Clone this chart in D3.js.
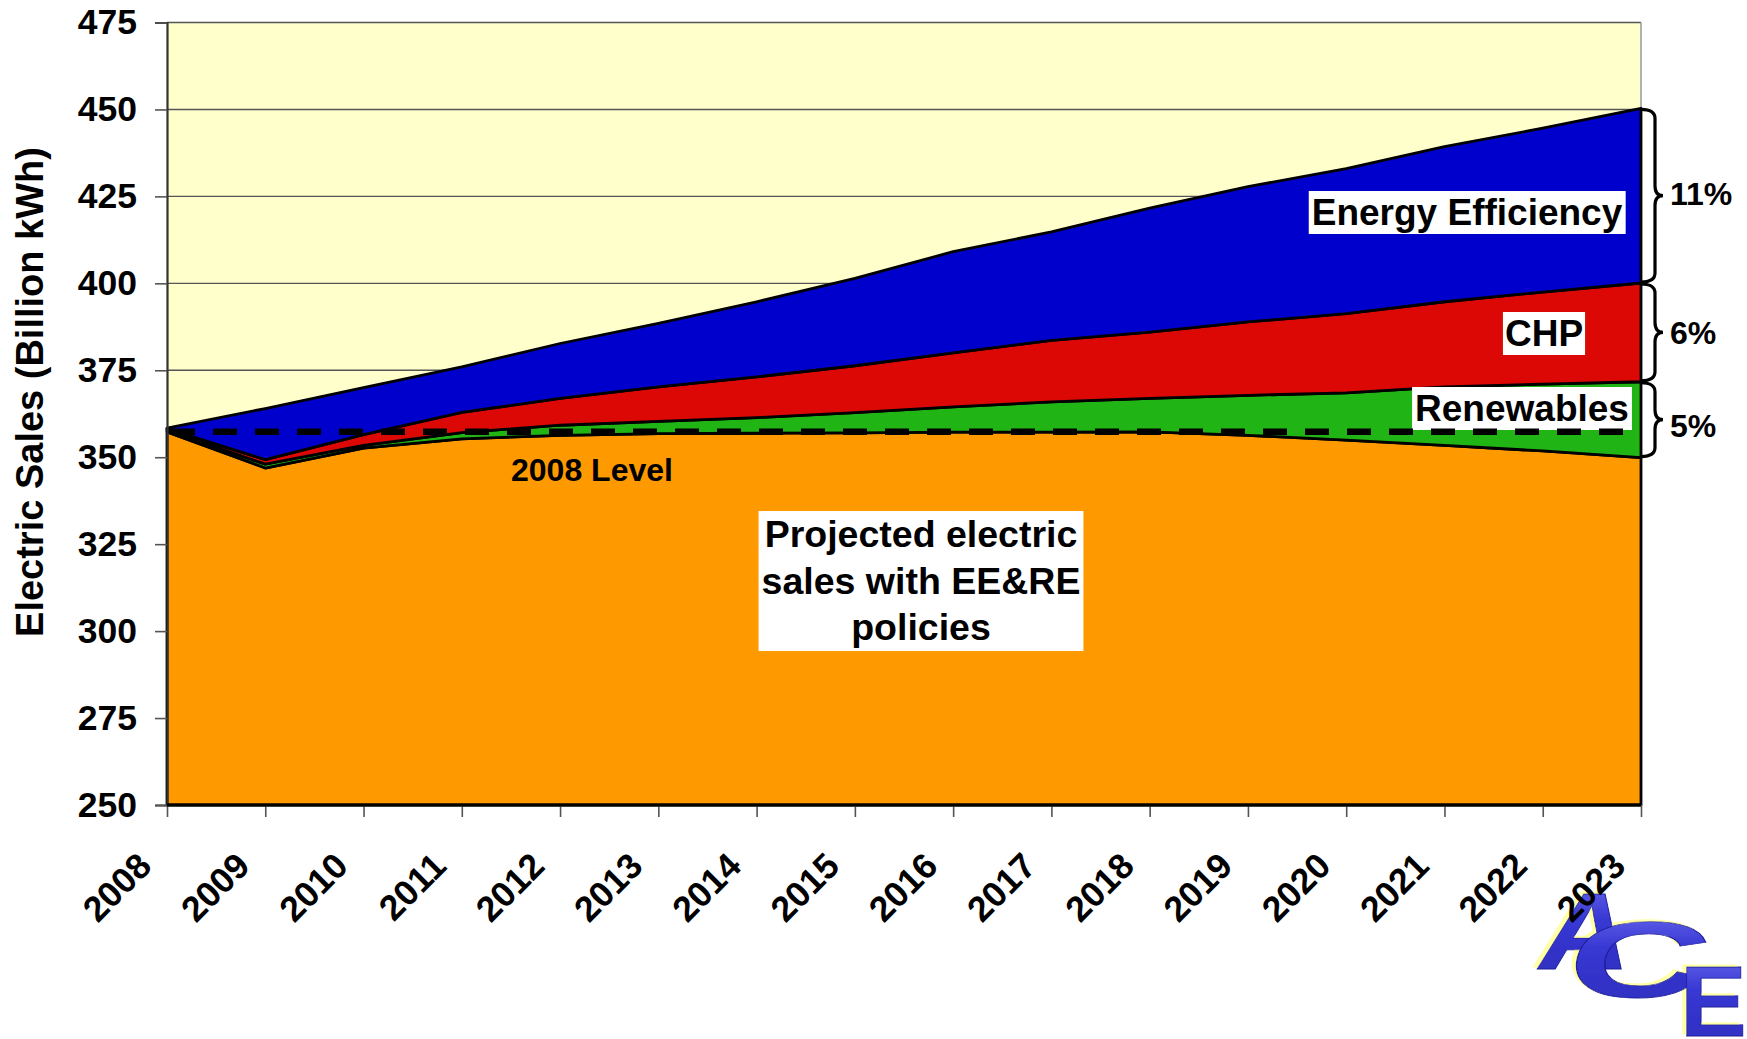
<!DOCTYPE html>
<html>
<head>
<meta charset="utf-8">
<script src="https://cdn.jsdelivr.net/npm/d3@7"></script>
<style>
  html, body { margin: 0; padding: 0; background: #ffffff; }
  svg { display: block; }
  text { font-family: "Liberation Sans", Arial, Helvetica, sans-serif; font-weight: bold; }
</style>
</head>
<body>
<svg id="chart" width="1747" height="1039"></svg>
<script>
// ---------------- data ----------------
const years = [2008, 2009, 2010, 2011, 2012, 2013, 2014, 2015, 2016, 2017, 2018, 2019, 2020, 2021, 2022, 2023];
// Projected electric sales with EE&RE policies (top of orange area)
const projectedSales     = [357.3, 346.9, 352.6, 355.3, 356.3, 356.8, 356.9, 357.0, 357.2, 357.2, 357.3, 356.3, 354.9, 353.4, 351.8, 349.9];
// Sales without renewables (top of green area)
const withoutRenewables  = [357.8, 348.0, 353.4, 357.1, 359.2, 360.3, 361.4, 362.8, 364.5, 365.9, 366.9, 367.8, 368.5, 370.2, 371.0, 371.7];
// Sales without CHP (top of red area)
const withoutCHP         = [358.2, 349.3, 356.5, 362.9, 366.9, 370.2, 373.1, 376.3, 380.0, 383.6, 386.0, 388.9, 391.3, 394.7, 397.5, 400.1];
// Baseline forecast without energy efficiency (top of blue area)
const baselineForecast   = [358.4, 364.0, 370.0, 376.0, 382.7, 388.5, 394.7, 401.4, 409.1, 414.8, 421.6, 427.8, 433.0, 439.3, 444.6, 450.3];
const level2008 = 357.3;

const yTicks = [250, 275, 300, 325, 350, 375, 400, 425, 450, 475];
const xTickLabels = years.map(String);
const layerNames = ["Projected electric sales with EE&RE policies", "Renewables", "CHP", "Energy Efficiency"];
const layerColors = ["#FF9900", "#20B414", "#DC0805", "#0000CC"];
const shareLabels = ["5%", "6%", "11%"];
const yAxisTitle = "Electric Sales (Billion kWh)";
const levelLabel = "2008 Level";

// ---------------- layout ----------------
const svg = d3.select("#chart");
const plot = { left: 167, right: 1641, top: 22.5, bottom: 805 };
const x = d3.scaleLinear().domain([2008, 2023]).range([plot.left, plot.right]);
const y = d3.scaleLinear().domain([250, 475]).range([plot.bottom, plot.top]);

const defs = svg.append("defs");

// ---------------- logo (drawn first, the 2023 label sits over it) ----------------
const grad = defs.append("linearGradient").attr("id", "logoGrad").attr("x1", 0).attr("y1", 0).attr("x2", 0).attr("y2", 1);
grad.append("stop").attr("offset", "0%").attr("stop-color", "#7070f0");
grad.append("stop").attr("offset", "40%").attr("stop-color", "#3838d4");
grad.append("stop").attr("offset", "100%").attr("stop-color", "#2c2cbc");
const shadow = defs.append("filter").attr("id", "logoShadow").attr("x", "-20%").attr("y", "-20%").attr("width", "140%").attr("height", "140%");
shadow.append("feDropShadow").attr("dx", -4).attr("dy", -2).attr("stdDeviation", 0.6).attr("flood-color", "#ffffa8").attr("flood-opacity", 1);

const logo = svg.append("g").attr("filter", "url(#logoShadow)");
function logoLetter(ch, tx, ty, sx, fs, skew) {
  logo.append("text").attr("transform", `translate(${tx},${ty}) scale(${sx},1) skewX(${skew})`)
    .attr("font-size", fs).attr("fill", "url(#logoGrad)").attr("stroke", "#20209a").attr("stroke-width", 0.8).text(ch);
}
logoLetter("A", 1534, 969, 1.15, 109, -10);
logoLetter("C", 1562, 997, 1.8, 108, -6);
logoLetter("E", 1680, 1036, 1.0, 100, 0);

// plot background
svg.append("rect")
  .attr("x", plot.left).attr("y", plot.top)
  .attr("width", plot.right - plot.left).attr("height", plot.bottom - plot.top)
  .attr("fill", "#FFFFCC");

// gridlines
svg.append("g").selectAll("line").data(yTicks.filter(d => d > 250)).join("line")
  .attr("x1", plot.left).attr("x2", plot.right)
  .attr("y1", d => y(d)).attr("y2", d => y(d))
  .attr("stroke", "#555").attr("stroke-width", 1.4);

// right border
svg.append("line")
  .attr("x1", plot.right).attr("x2", plot.right)
  .attr("y1", plot.top).attr("y2", plot.bottom)
  .attr("stroke", "#999").attr("stroke-width", 1.5);

// ---------------- areas ----------------
const bottoms = [years.map(() => 250), projectedSales, withoutRenewables, withoutCHP];
const tops = [projectedSales, withoutRenewables, withoutCHP, baselineForecast];
const layers = tops.map((t, i) => years.map((yr, j) => ({ yr, y0: bottoms[i][j], y1: t[j] })));

const area = d3.area()
  .x(d => x(d.yr))
  .y0(d => y(d.y0))
  .y1(d => y(d.y1));

svg.append("g").selectAll("path").data(layers).join("path")
  .attr("d", area)
  .attr("fill", (d, i) => layerColors[i])
  .attr("stroke", "#000")
  .attr("stroke-width", 2.8)
  .attr("stroke-linejoin", "round");

// ---------------- axes ----------------
const yAxis = d3.axisLeft(y).tickValues(yTicks).tickSize(12).tickPadding(18).tickFormat(d3.format("d"));
const gy = svg.append("g").attr("transform", `translate(${plot.left},0)`).call(yAxis);
gy.select(".domain").attr("stroke", "#333").attr("stroke-width", 2.2);
gy.selectAll(".tick line").attr("stroke", "#555").attr("stroke-width", 1.6);
gy.selectAll(".tick text").attr("font-size", 35.5).attr("fill", "#000")
  .style("font-family", "'Liberation Sans', Arial, sans-serif").style("font-weight", "bold");

const xAxis = d3.axisBottom(x).tickValues(years).tickSize(12).tickFormat((d, i) => xTickLabels[i]);
const gx = svg.append("g").attr("transform", `translate(0,${plot.bottom})`).call(xAxis);
gx.select(".domain").remove();
gx.selectAll(".tick line").attr("stroke", "#555").attr("stroke-width", 1.6);
gx.selectAll(".tick text")
  .attr("font-size", 35.5).attr("fill", "#000")
  .style("font-family", "'Liberation Sans', Arial, sans-serif").style("font-weight", "bold")
  .attr("text-anchor", "end")
  .attr("y", 0).attr("dy", 0)
  .attr("transform", "translate(-14,63) rotate(-45)");

// bottom black edge over the axis
svg.append("line")
  .attr("x1", plot.left).attr("x2", plot.right)
  .attr("y1", plot.bottom).attr("y2", plot.bottom)
  .attr("stroke", "#000").attr("stroke-width", 2.8);

// y-axis title
svg.append("text")
  .attr("transform", "translate(43,392) rotate(-90)")
  .attr("text-anchor", "middle")
  .attr("font-size", 38)
  .text(yAxisTitle);

// ---------------- boxed labels ----------------
function boxedLabel(lines, cx, firstBaseline, lineH, fontSize, pad) {
  const g = svg.append("g");
  const t = g.append("text").attr("text-anchor", "middle").attr("font-size", fontSize);
  lines.forEach((ln, i) => {
    t.append("tspan").attr("x", cx).attr("y", firstBaseline + i * lineH).text(ln);
  });
  const bb = t.node().getBBox();
  g.insert("rect", "text")
    .attr("x", bb.x - pad.x).attr("y", bb.y - pad.top)
    .attr("width", bb.width + 2 * pad.x).attr("height", bb.height + pad.top + pad.bottom)
    .attr("fill", "#fff");
  return g;
}

const x23 = x(2023);
boxedLabel([layerNames[3]], x23 - 174, 225, 0, 37, { x: 3, top: 1, bottom: 1 });
boxedLabel([layerNames[2]], x23 - 97, 346, 0, 37, { x: 2, top: 1, bottom: 1 });
boxedLabel([layerNames[1]], x23 - 119, 421, 0, 37, { x: 3, top: 1, bottom: 1 });
boxedLabel(["Projected electric", "sales with EE&RE", "policies"], 921, 547, 46.5, 37.5, { x: 3, top: 2, bottom: 3 });

// 2008 level label
svg.append("text")
  .attr("x", 511).attr("y", 481)
  .attr("font-size", 32)
  .text(levelLabel);

// dashed 2008 level line
svg.append("line")
  .attr("x1", x(2008)).attr("x2", x(2023) - 12)
  .attr("y1", y(level2008)).attr("y2", y(level2008))
  .attr("stroke", "#000").attr("stroke-width", 6.5)
  .attr("stroke-dasharray", "24 18")
  .attr("stroke-dashoffset", -4);

// ---------------- braces ----------------
const last = years.length - 1;
const braceSpans = [
  [projectedSales[last], withoutRenewables[last]],
  [withoutRenewables[last], withoutCHP[last]],
  [withoutCHP[last], baselineForecast[last]]
];
const labelShift = [6, 0, -2];
function bracePath(x0, yTop, yBot) {
  const w = 14, tip = 8, r = 10;
  const yMid = (yTop + yBot) / 2;
  const xb = x0 + w;
  return `M${x0},${yTop + 1}` +
    ` Q${xb},${yTop + 1} ${xb},${yTop + r}` +
    ` L${xb},${yMid - r}` +
    ` Q${xb},${yMid} ${xb + tip},${yMid}` +
    ` Q${xb},${yMid} ${xb},${yMid + r}` +
    ` L${xb},${yBot - r}` +
    ` Q${xb},${yBot - 1} ${x0},${yBot - 1}`;
}
const gb = svg.append("g");
braceSpans.forEach((s, i) => {
  const yTop = y(s[1]), yBot = y(s[0]);
  gb.append("path")
    .attr("d", bracePath(plot.right, yTop, yBot))
    .attr("fill", "none").attr("stroke", "#000").attr("stroke-width", 3.2);
  gb.append("text")
    .attr("x", plot.right + 29).attr("y", (yTop + yBot) / 2 + 11.5 + labelShift[i])
    .attr("font-size", 32)
    .text(shareLabels[i]);
});
</script>
</body>
</html>
